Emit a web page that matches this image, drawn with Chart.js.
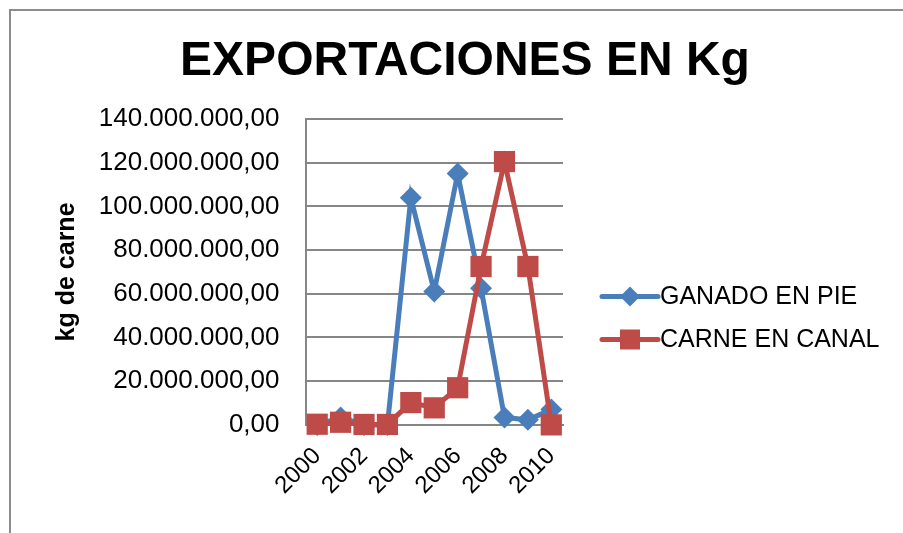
<!DOCTYPE html>
<html>
<head>
<meta charset="utf-8">
<script src="https://cdn.jsdelivr.net/npm/chart.js@4/dist/chart.umd.min.js"></script>
<style>
  body { margin: 0; background: #fff; }
  #wrap { position: relative; width: 903px; height: 533px; }
  #frame { position: absolute; left: 9px; top: 9px; right: -5px; bottom: -5px;
           border-left: 2px solid #8c8c8c; border-top: 2px solid #8c8c8c; }
  #chartExport { position: absolute; left: 0; top: 0; }
</style>
</head>
<body>
<div id="wrap">
  <div id="frame"></div>
  <canvas id="chartExport" width="903" height="533"></canvas>
</div>
<script>
var years = ["2000","2001","2002","2003","2004","2005","2006","2007","2008","2009","2010"];
var ganadoEnPie = [0, 3400000, 0, 0, 104000000, 61000000, 115000000, 62500000, 3400000, 2300000, 7000000];
var carneEnCanal = [300000, 1200000, 200000, 200000, 10200000, 7800000, 17000000, 72500000, 120500000, 72500000, 0];
var seriesNames = ["GANADO EN PIE", "CARNE EN CANAL"];
var chartTitle = "EXPORTACIONES EN Kg";
var yMax = 140000000, yStep = 20000000;

var blue = "#4a7ebb", red = "#be4b48";
var fontFam = "'Liberation Sans', Arial, sans-serif";

// Spanish number format: 140.000.000,00
function formatKg(v) {
    var s = Math.round(v).toString().replace(/\B(?=(\d{3})+(?!\d))/g, ".");
    return s + ",00";
}

// title centred on the whole chart + own legend (line with marker, like Excel)
var excelDecor = {
    id: "excelDecor",
    afterDraw: function(chart) {
        var ctx = chart.ctx;
        var area = chart.chartArea;
        ctx.save();
        ctx.fillStyle = "#000";
        ctx.font = "bold 48px " + fontFam;
        ctx.textAlign = "center";
        ctx.textBaseline = "middle";
        ctx.fillText(chartTitle, 465, 62);

        var midY = 318;
        var rowH = 43;
        var x0 = area.right + 39;
        ctx.textAlign = "left";
        chart.data.datasets.forEach(function(ds, i) {
            var y = midY - rowH / 2 + i * rowH;
            ctx.strokeStyle = ds.borderColor;
            ctx.lineWidth = 5;
            ctx.lineCap = "round";
            ctx.beginPath(); ctx.moveTo(x0, y); ctx.lineTo(x0 + 56, y); ctx.stroke();
            ctx.fillStyle = ds.borderColor;
            ctx.beginPath();
            if (ds.pointStyle == "rectRot") {
                ctx.moveTo(x0 + 28, y - 10); ctx.lineTo(x0 + 38, y); ctx.lineTo(x0 + 28, y + 10); ctx.lineTo(x0 + 18, y);
            } else {
                ctx.rect(x0 + 18, y - 10, 20, 20);
            }
            ctx.fill();
            ctx.fillStyle = "#000";
            ctx.font = "25px " + fontFam;
            ctx.fillText(ds.label, x0 + 58, y + 1);
        });
        ctx.restore();
    }
};

var canvas = document.getElementById("chartExport");

new Chart(canvas, {
    type: "line",
    data: {
        labels: years,
        datasets: [{
            label: seriesNames[0],
            data: ganadoEnPie,
            borderColor: blue,
            backgroundColor: blue,
            borderWidth: 5,
            pointStyle: "rectRot",
            pointRadius: 11,
            pointBorderWidth: 0,
            tension: 0,
            clip: false,
            order: 1
        }, {
            label: seriesNames[1],
            data: carneEnCanal,
            borderColor: red,
            backgroundColor: red,
            borderWidth: 5,
            pointStyle: "rect",
            pointRadius: 15,
            pointBorderWidth: 0,
            tension: 0,
            clip: false,
            order: 0
        }]
    },
    plugins: [excelDecor],
    options: {
        responsive: false,
        animation: false,
        layout: { padding: { left: 48, right: 340, top: 119, bottom: 16 } },
        plugins: {
            legend: { display: false },
            tooltip: { enabled: false }
        },
        scales: {
            x: {
                offset: true,
                grid: { display: false, drawTicks: false },
                border: { display: true, color: "#868686", width: 2 },
                ticks: {
                    autoSkip: false,
                    maxRotation: 45,
                    minRotation: 45,
                    padding: 17,
                    color: "#000",
                    font: { family: fontFam, size: 24 },
                    callback: function(val, idx) { return idx % 2 == 0 ? this.getLabelForValue(val) : ""; }
                }
            },
            y: {
                min: 0,
                max: yMax,
                ticks: {
                    stepSize: yStep,
                    padding: 26,
                    color: "#000",
                    font: { family: fontFam, size: 26 },
                    callback: function(v) { return formatKg(v); }
                },
                grid: { color: "#868686", lineWidth: 2, drawTicks: false },
                border: { display: true, color: "#868686", width: 2 },
                title: {
                    display: true,
                    text: "kg de carne",
                    color: "#000",
                    font: { family: fontFam, size: 25, weight: "bold" },
                    padding: { top: 4, bottom: 2 }
                }
            }
        }
    }
});
</script>
</body>
</html>
